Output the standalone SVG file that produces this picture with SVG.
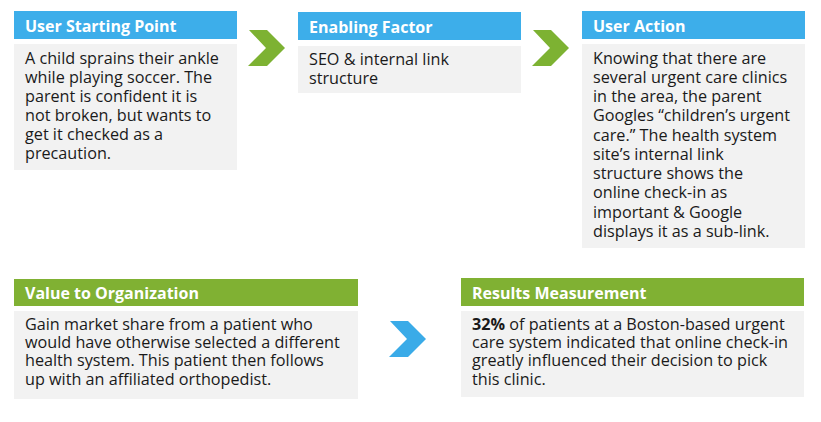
<svg xmlns="http://www.w3.org/2000/svg" width="821" height="422" viewBox="0 0 821 422">
<style>
.hb{fill:#3daeea}
.hg{fill:#80b133}
.bd{fill:#f2f2f2}
.ht{font-family:"Open Sans",sans-serif;font-weight:bold;font-size:16px;fill:#ffffff}
.bt{font-family:"Open Sans",sans-serif;font-size:16.2px;fill:#1a1a1a}
.cg{fill:#7db232}
.cb{fill:#3aabe8}
</style>
<rect width="821" height="422" fill="#ffffff"/>
<g id="n1">
<rect class="hb" x="14" y="11" width="223" height="28"/>
<text class="ht" x="25" y="32">User Starting Point</text>
<rect class="bd" x="14" y="44" width="223" height="126"/>
<text class="bt" x="25" y="63.5">A child sprains their ankle</text>
<text class="bt" x="25" y="82.5">while playing soccer. The</text>
<text class="bt" x="25" y="101.5">parent is confident it is</text>
<text class="bt" x="25" y="120.5">not broken, but wants to</text>
<text class="bt" x="25" y="139.5">get it checked as a</text>
<text class="bt" x="25" y="158.5">precaution.</text>
</g>
<g id="n2">
<rect class="hb" x="298" y="12" width="223" height="28"/>
<text class="ht" x="309" y="33">Enabling Factor</text>
<rect class="bd" x="298" y="46" width="223" height="47"/>
<text class="bt" x="309" y="64.5">SEO &amp; internal link</text>
<text class="bt" x="309" y="83.5">structure</text>
</g>
<g id="n3">
<rect class="hb" x="582" y="11" width="223" height="28"/>
<text class="ht" x="593" y="32">User Action</text>
<rect class="bd" x="582" y="44" width="223" height="204"/>
<text class="bt" x="593" y="63.5">Knowing that there are</text>
<text class="bt" x="593" y="82.75">several urgent care clinics</text>
<text class="bt" x="593" y="102">in the area, the parent</text>
<text class="bt" x="593" y="121.25">Googles “children’s urgent</text>
<text class="bt" x="593" y="140.5">care.” The health system</text>
<text class="bt" x="593" y="159.75">site’s internal link</text>
<text class="bt" x="593" y="179">structure shows the</text>
<text class="bt" x="593" y="198.25">online check-in as</text>
<text class="bt" x="593" y="217.5">important &amp; Google</text>
<text class="bt" x="593" y="236.75">displays it as a sub-link.</text>
</g>
<g id="n4">
<rect class="hg" x="14" y="279" width="344" height="27"/>
<text class="ht" x="25" y="299">Value to Organization</text>
<rect class="bd" x="14" y="311" width="344" height="88"/>
<text class="bt" x="25" y="329.6">Gain market share from a patient who</text>
<text class="bt" x="25" y="348">would have otherwise selected a different</text>
<text class="bt" x="25" y="366.4">health system. This patient then follows</text>
<text class="bt" x="25" y="384.8">up with an affiliated orthopedist.</text>
</g>
<g id="n5">
<rect class="hg" x="461" y="278" width="343" height="28"/>
<text class="ht" x="472" y="299">Results Measurement</text>
<rect class="bd" x="461" y="311" width="343" height="86"/>
<text class="bt" x="472" y="329.6"><tspan font-weight="bold">32%</tspan> of patients at a Boston-based urgent</text>
<text class="bt" x="472" y="348">care system indicated that online check-in</text>
<text class="bt" x="472" y="366.4">greatly influenced their decision to pick</text>
<text class="bt" x="472" y="384.8">this clinic.</text>
</g>
<g id="connectors">
<polygon class="cg" points="249,30 267,30 285,48 267,66 248,66 266,48"/>
<polygon class="cg" points="533,30 551,30 569,48 551,66 532,66 550,48"/>
<polygon class="cb" points="390,321 408,321 426,339 408,357 389,357 407,339"/>
</g>
</svg>
